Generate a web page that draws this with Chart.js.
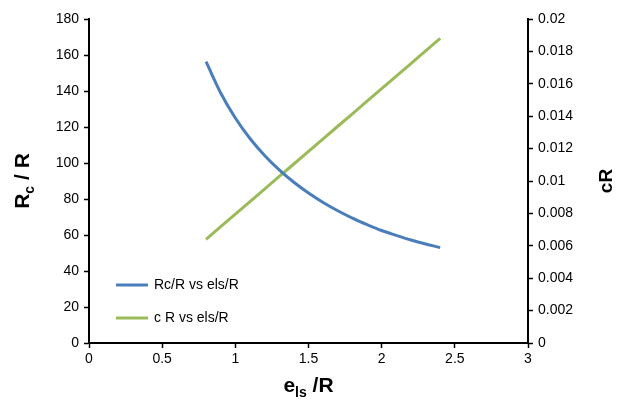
<!DOCTYPE html>
<html>
<head>
<meta charset="utf-8">
<script src="https://cdn.jsdelivr.net/npm/chart.js@4.4.1/dist/chart.umd.min.js"></script>
<style>
  body { margin: 0; background: #fff; }
  #wrap { width: 621px; height: 406px; position: relative; }
</style>
</head>
<body>
<div id="wrap"><canvas id="grafico"></canvas></div>
<script>
// valores
var elsR = [0.8, 0.9, 1.0, 1.1, 1.2, 1.3, 1.4, 1.5, 1.6, 1.7, 1.8, 1.9, 2.0, 2.1, 2.2, 2.3, 2.4];
var rcR = [156.3, 138.9, 125, 113.6, 104.2, 96.2, 89.3, 83.3, 78.1, 73.5, 69.4, 65.8, 62.5, 59.8, 57.2, 55.0, 53.0];
var cR = [0.0064, 0.00718, 0.00795, 0.00873, 0.0095, 0.01028, 0.01105, 0.01183, 0.0126, 0.01338, 0.01415, 0.01493, 0.0157, 0.01648, 0.01725, 0.01803, 0.0188];
var labels = ['Rc/R vs els/R', 'c R vs els/R'];

function pontos(ys){
  return elsR.map(function(x, i){ return {x: x, y: ys[i]}; });
}

// titulos dos eixos com subscrito e legenda dentro do grafico
var extras = {
  id: 'extras',
  afterDraw: function(chart){
    var ctx = chart.ctx;
    var a = chart.chartArea;
    ctx.save();
    ctx.fillStyle = '#000';
    ctx.textBaseline = 'alphabetic';

    // eixo esquerdo
    ctx.save();
    ctx.translate(29, (a.top + a.bottom) / 2);
    ctx.rotate(-Math.PI / 2);
    var p1 = 'R', p2 = 'c', p3 = ' / R';
    ctx.font = 'bold 21px "Liberation Sans", Arial';
    var w1 = ctx.measureText(p1).width;
    ctx.font = 'bold 14px "Liberation Sans", Arial';
    var w2 = ctx.measureText(p2).width;
    ctx.font = 'bold 21px "Liberation Sans", Arial';
    var w3 = ctx.measureText(p3).width;
    var x0 = -(w1 + w2 + w3) / 2;
    ctx.fillText(p1, x0, 0);
    ctx.font = 'bold 14px "Liberation Sans", Arial';
    ctx.fillText(p2, x0 + w1, 5);
    ctx.font = 'bold 21px "Liberation Sans", Arial';
    ctx.fillText(p3, x0 + w1 + w2, 0);
    ctx.restore();

    // eixo inferior
    ctx.font = 'bold 21px "Liberation Sans", Arial';
    var b1 = 'e', b3 = ' /R';
    var wb1 = ctx.measureText(b1).width;
    var wb3 = ctx.measureText(b3).width;
    ctx.font = 'bold 14px "Liberation Sans", Arial';
    var wb2 = ctx.measureText('ls').width;
    var bx = (a.left + a.right) / 2 - (wb1 + wb2 + wb3) / 2;
    ctx.font = 'bold 21px "Liberation Sans", Arial';
    ctx.fillText(b1, bx, 392);
    ctx.font = 'bold 14px "Liberation Sans", Arial';
    ctx.fillText('ls', bx + wb1, 397);
    ctx.font = 'bold 21px "Liberation Sans", Arial';
    ctx.fillText(b3, bx + wb1 + wb2, 392);

    // eixo direito
    ctx.save();
    ctx.translate(612, (a.top + a.bottom) / 2);
    ctx.rotate(-Math.PI / 2);
    ctx.font = 'bold 19px "Liberation Sans", Arial';
    ctx.textAlign = 'center';
    ctx.fillText('cR', 0, 0);
    ctx.restore();

    // legenda
    var cores = ['#4a7ebb', '#9bbb59'];
    ctx.font = '14px "Liberation Sans", Arial';
    ctx.textBaseline = 'middle';
    for (var i = 0; i < labels.length; i++) {
      var ly = 285 + i * 33;
      ctx.strokeStyle = cores[i];
      ctx.lineWidth = 3;
      ctx.beginPath();
      ctx.moveTo(116, ly);
      ctx.lineTo(148, ly);
      ctx.stroke();
      ctx.fillStyle = '#000';
      ctx.fillText(labels[i], 154, ly);
    }
    ctx.restore();
  }
};

var fonteTick = { family: '"Liberation Sans", Arial', size: 14 };
var gradeEixo = { display: true, drawOnChartArea: false, drawTicks: true, tickLength: 5, tickColor: '#000', tickWidth: 1.5 };

new Chart(document.getElementById('grafico'), {
  type: 'scatter',
  data: {
    datasets: [
      {
        label: labels[0],
        data: pontos(rcR),
        borderColor: '#4a7ebb',
        backgroundColor: '#4a7ebb',
        borderWidth: 3,
        showLine: true,
        pointRadius: 0,
        cubicInterpolationMode: 'monotone',
        yAxisID: 'y'
      },
      {
        label: labels[1],
        data: pontos(cR),
        borderColor: '#9bbb59',
        backgroundColor: '#9bbb59',
        borderWidth: 3,
        showLine: true,
        pointRadius: 0,
        yAxisID: 'y2'
      }
    ]
  },
  options: {
    responsive: true,
    maintainAspectRatio: false,
    animation: false,
    layout: { padding: { top: 19, bottom: 0, left: 0, right: 0 } },
    plugins: { legend: { display: false }, tooltip: { enabled: false } },
    scales: {
      x: {
        type: 'linear',
        min: 0, max: 3,
        ticks: {
          stepSize: 0.5, color: '#000', font: fonteTick, padding: 3,
          callback: function(v){ return String(Number(v.toFixed(1))); }
        },
        grid: gradeEixo,
        border: { color: '#000', width: 2 },
        afterFit: function(s){ s.height = 63; }
      },
      y: {
        position: 'left',
        min: 0, max: 180,
        ticks: { stepSize: 20, color: '#000', font: fonteTick, padding: 5 },
        grid: gradeEixo,
        border: { color: '#000', width: 2 },
        afterFit: function(s){ s.width = 89; }
      },
      y2: {
        position: 'right',
        min: 0, max: 0.02,
        ticks: {
          stepSize: 0.002, color: '#000', font: fonteTick, padding: 5,
          callback: function(v){ return String(Number(v.toFixed(3))); }
        },
        grid: gradeEixo,
        border: { color: '#000', width: 2 },
        afterFit: function(s){ s.width = 93; }
      }
    }
  },
  plugins: [extras]
});
</script>
</body>
</html>
